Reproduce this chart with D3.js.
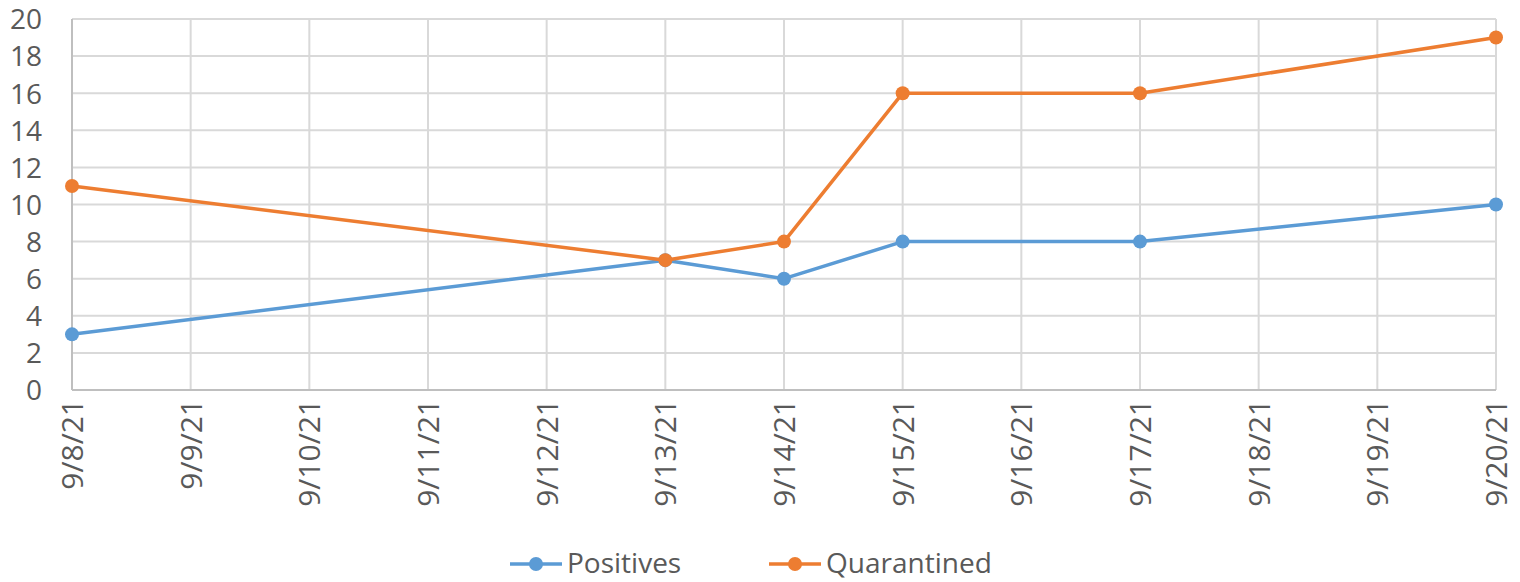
<!DOCTYPE html>
<html>
<head>
<meta charset="utf-8">
<script src="https://cdn.jsdelivr.net/npm/d3@7"></script>
<style>
  body { margin: 0; background: #fff; }
  text { font-family: "Open Sans", sans-serif; fill: #595959; }
</style>
</head>
<body>
<svg id="chart" width="1520" height="582"></svg>
<script>
// chart data
const dates = ["9/8/21", "9/9/21", "9/10/21", "9/11/21", "9/12/21", "9/13/21", "9/14/21",
  "9/15/21", "9/16/21", "9/17/21", "9/18/21", "9/19/21", "9/20/21"];
const pointDates = ["9/8/21", "9/13/21", "9/14/21", "9/15/21", "9/17/21", "9/20/21"];
const positives = [3, 7, 6, 8, 8, 10];
const quarantined = [11, 7, 8, 16, 16, 19];
const yTicks = [0, 2, 4, 6, 8, 10, 12, 14, 16, 18, 20];

const series = [
  { name: "Positives", values: positives, color: "#5b9bd5" },
  { name: "Quarantined", values: quarantined, color: "#ed7d31" }
];

const svg = d3.select("#chart");
const margin = { top: 19, right: 24, bottom: 192, left: 72 };
const width = +svg.attr("width") - margin.left - margin.right;
const height = +svg.attr("height") - margin.top - margin.bottom;

const x = d3.scalePoint().domain(dates).range([0, width]);
const y = d3.scaleLinear().domain([0, 20]).range([height, 0]);

const g = svg.append("g")
  .attr("transform", `translate(${margin.left},${margin.top})`);

// grid
g.append("g")
  .selectAll("line")
  .data(yTicks.slice(1))
  .enter().append("line")
  .attr("x1", 0).attr("x2", width)
  .attr("y1", d => y(d)).attr("y2", d => y(d))
  .attr("stroke", "#d9d9d9").attr("stroke-width", 2);

g.append("g")
  .selectAll("line")
  .data(dates.slice(1))
  .enter().append("line")
  .attr("x1", d => x(d)).attr("x2", d => x(d))
  .attr("y1", 0).attr("y2", height)
  .attr("stroke", "#d9d9d9").attr("stroke-width", 2);

// axes
g.append("line")
  .attr("x1", 0).attr("x2", 0).attr("y1", 0).attr("y2", height)
  .attr("stroke", "#bfbfbf").attr("stroke-width", 2);
g.append("line")
  .attr("x1", 0).attr("x2", width).attr("y1", height).attr("y2", height)
  .attr("stroke", "#bfbfbf").attr("stroke-width", 2);

const yAxis = g.append("g")
  .call(d3.axisLeft(y).tickValues(yTicks).tickSize(0).tickPadding(30));
yAxis.select(".domain").remove();
yAxis.selectAll("text")
  .style("font-size", "28px")
  .attr("dy", "0.35em")
  .style("fill", "#595959");

const xAxis = g.append("g")
  .attr("transform", `translate(0,${height})`)
  .call(d3.axisBottom(x).tickSize(0));
xAxis.select(".domain").remove();
xAxis.selectAll("text")
  .style("font-size", "30px")
  .style("fill", "#595959")
  .attr("text-anchor", "end")
  .attr("transform", "rotate(-90)")
  .attr("x", -9)
  .attr("y", 0)
  .attr("dy", "0.35em");

// lines
const line = d3.line()
  .x((d, i) => x(pointDates[i]))
  .y(d => y(d));

series.forEach(s => {
  g.append("path")
    .datum(s.values)
    .attr("fill", "none")
    .attr("stroke", s.color)
    .attr("stroke-width", 3.5)
    .attr("stroke-linejoin", "round")
    .attr("d", line);
  g.selectAll(null)
    .data(s.values)
    .enter().append("circle")
    .attr("cx", (d, i) => x(pointDates[i]))
    .attr("cy", d => y(d))
    .attr("r", 7)
    .attr("fill", s.color);
});

// legend
const legendItems = [
  { s: series[0], x: 510 },
  { s: series[1], x: 769 }
];
const legend = svg.append("g");
legendItems.forEach(item => {
  const lg = legend.append("g").attr("transform", `translate(${item.x},564)`);
  lg.append("line")
    .attr("x1", 0).attr("x2", 52).attr("y1", 0).attr("y2", 0)
    .attr("stroke", item.s.color).attr("stroke-width", 3.5);
  lg.append("circle").attr("cx", 26).attr("cy", 0).attr("r", 7).attr("fill", item.s.color);
  lg.append("text")
    .attr("x", 57).attr("y", 0).attr("dy", "0.33em")
    .style("font-size", "28px")
    .text(item.s.name);
});
</script>
</body>
</html>
